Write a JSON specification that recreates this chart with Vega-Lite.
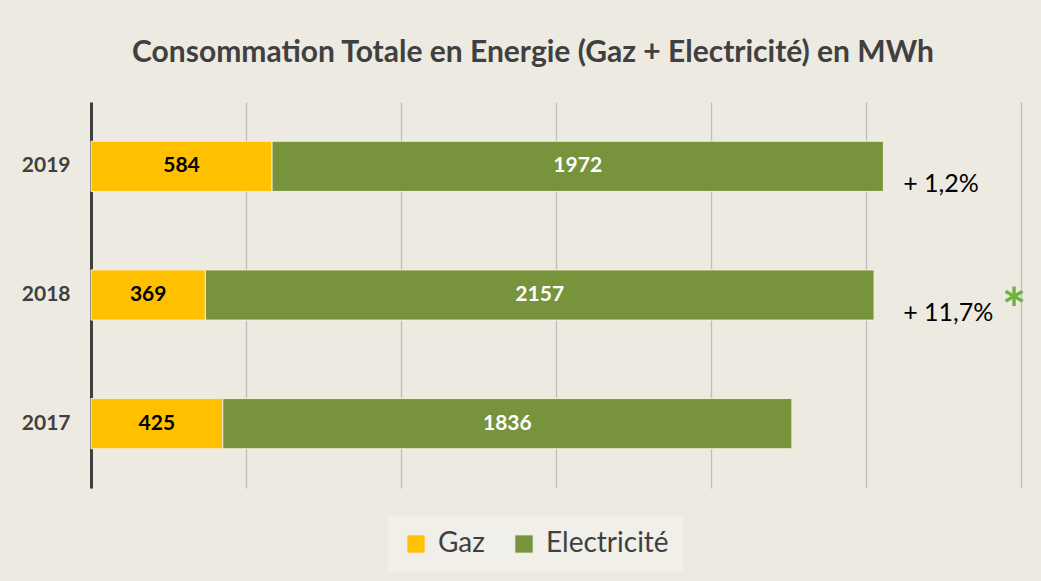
{
  "$schema": "https://vega.github.io/schema/vega-lite/v6.json",
  "width": 930,
  "height": 386,
  "padding": {"left": 21, "top": 38, "right": 20, "bottom": 10},
  "background": "#EDEAE1",
  "title": {"text": "Consommation Totale en Energie (Gaz + Electricité) en MWh", "font": "Lato", "fontSize": 30, "fontWeight": "bold", "color": "#404040", "offset": 34, "dx": -23},
  "config": {"view": {"stroke": null}, "font": "Lato"},
  "datasets": {
    "energy": [
      {"year": "2019", "type": "Gaz", "value": 584},
      {"year": "2019", "type": "Electricité", "value": 1972},
      {"year": "2018", "type": "Gaz", "value": 369},
      {"year": "2018", "type": "Electricité", "value": 2157},
      {"year": "2017", "type": "Gaz", "value": 425},
      {"year": "2017", "type": "Electricité", "value": 1836}
    ],
    "notes": [
      {"year": "2019", "label": "+ 1,2%"},
      {"year": "2018", "label": "+ 11,7%"}
    ]
  },
  "layer": [
    {
      "data": {"name": "energy"},
      "mark": {"type": "bar", "stroke": "#F6EED6", "strokeWidth": 1},
      "encoding": {
        "y": {"field": "year", "type": "ordinal", "sort": "descending",
          "scale": {"paddingInner": 0.61, "paddingOuter": 0.305},
          "axis": {"title": null, "ticks": false, "labelPadding": 21, "labelFontSize": 21, "labelFontWeight": "bold", "labelColor": "#404040", "labelFont": "Lato", "domainColor": "#404040", "domainWidth": 3, "minExtent": 70, "maxExtent": 70, "grid": false}},
        "x": {"field": "value", "type": "quantitative", "stack": "zero",
          "scale": {"domain": [0, 3000], "nice": false},
          "axis": {"title": null, "values": [0, 500, 1000, 1500, 2000, 2500, 3000], "labels": false, "ticks": false, "domain": false, "grid": true, "gridColor": "#BDBDBD", "gridWidth": 1.3}},
        "color": {"field": "type", "type": "nominal",
          "scale": {"domain": ["Gaz", "Electricité"], "range": ["#FFC000", "#77933C"]},
          "legend": {"orient": "none", "legendX": 297, "legendY": 414, "direction": "horizontal", "title": null, "symbolType": "square", "symbolSize": 300, "symbolStrokeWidth": 0, "labelFontSize": 28, "labelFont": "Lato", "labelColor": "#404040", "labelOffset": 8, "columnPadding": 25, "padding": 14, "fillColor": "#F1EFE9"}},
        "order": {"field": "type", "sort": "descending"}
      }
    },
    {
      "data": {"name": "energy"},
      "transform": [
        {"stack": "value", "groupby": ["year"], "sort": [{"field": "type", "order": "descending"}], "as": ["v0", "v1"]},
        {"fold": ["v0", "v1"], "as": ["edge", "pos"]},
        {"aggregate": [{"op": "mean", "field": "pos", "as": "mid"}], "groupby": ["year", "type", "value"]}
      ],
      "mark": {"type": "text", "font": "Lato", "fontSize": 21, "fontWeight": "bold", "align": "center", "baseline": "middle"},
      "encoding": {
        "y": {"field": "year", "type": "ordinal", "sort": "descending"},
        "x": {"field": "mid", "type": "quantitative"},
        "text": {"field": "value", "type": "quantitative"},
        "color": {"condition": {"test": "datum.type === 'Gaz'", "value": "#000000"}, "value": "#FFFFFF"}
      }
    },
    {
      "data": {"name": "notes"},
      "mark": {"type": "text", "font": "Lato", "fontSize": 25, "align": "left", "baseline": "middle", "dy": 18, "color": "#000000"},
      "encoding": {
        "y": {"field": "year", "type": "ordinal", "sort": "descending"},
        "x": {"datum": 2620},
        "text": {"field": "label"}
      }
    },
    {
      "data": {"name": "notes"},
      "transform": [{"filter": "datum.year === '2018'"}],
      "mark": {"type": "text", "text": "*", "font": "Lato", "fontSize": 58, "fontWeight": "bold", "align": "center", "baseline": "middle", "dy": 18, "color": "#6DB33F"},
      "encoding": {
        "y": {"field": "year", "type": "ordinal", "sort": "descending"},
        "x": {"datum": 2978}
      }
    }
  ]
}
